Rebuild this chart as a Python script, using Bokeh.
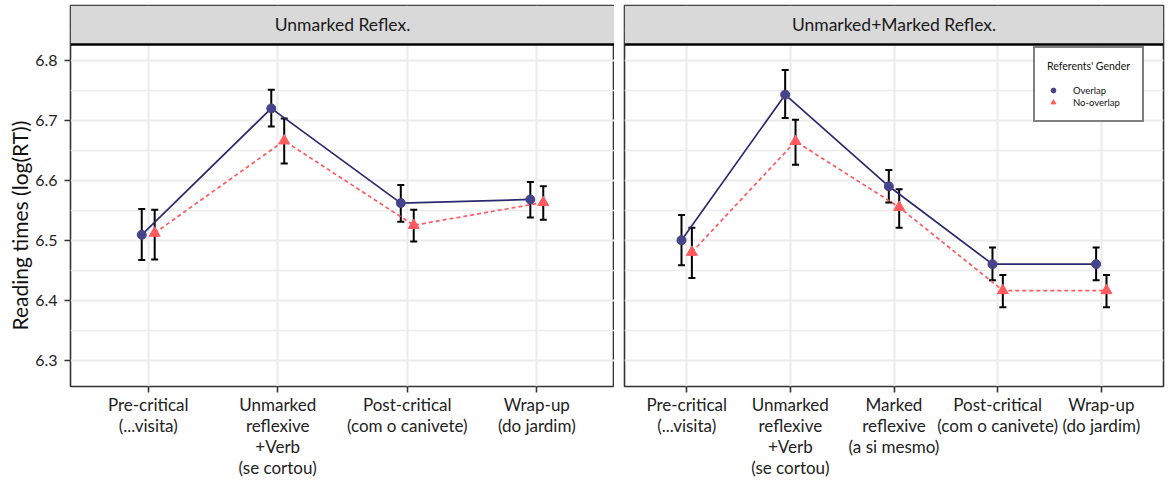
from bokeh.plotting import figure
from bokeh.layouts import row
from bokeh.models import (Range1d, FixedTicker, Whisker, TeeHead, ColumnDataSource,
                          Legend, LegendItem, Title)
from bokeh.core.properties import value
from bokeh.embed import file_html
from bokeh.resources import INLINE

# ---------------- data ----------------
left_title = "Unmarked Reflex."
left_categories = ["Pre-critical\n(...visita)",
                   "Unmarked\nreflexive\n+Verb\n(se cortou)",
                   "Post-critical\n(com o canivete)",
                   "Wrap-up\n(do jardim)"]
left_overlap = [6.509, 6.720, 6.562, 6.568]
left_overlap_lo = [6.467, 6.690, 6.531, 6.538]
left_overlap_hi = [6.552, 6.751, 6.592, 6.597]
left_nooverlap = [6.512, 6.666, 6.525, 6.563]
left_nooverlap_lo = [6.468, 6.628, 6.498, 6.534]
left_nooverlap_hi = [6.551, 6.703, 6.551, 6.590]

right_title = "Unmarked+Marked Reflex."
right_categories = ["Pre-critical\n(...visita)",
                    "Unmarked\nreflexive\n+Verb\n(se cortou)",
                    "Marked\nreflexive\n(a si mesmo)",
                    "Post-critical\n(com o canivete)",
                    "Wrap-up\n(do jardim)"]
right_overlap = [6.500, 6.743, 6.590, 6.460, 6.460]
right_overlap_lo = [6.458, 6.704, 6.563, 6.433, 6.433]
right_overlap_hi = [6.542, 6.784, 6.617, 6.488, 6.488]
right_nooverlap = [6.480, 6.665, 6.555, 6.416, 6.416]
right_nooverlap_lo = [6.437, 6.626, 6.521, 6.388, 6.388]
right_nooverlap_hi = [6.521, 6.701, 6.585, 6.442, 6.442]

y_ticks = [6.3, 6.4, 6.5, 6.6, 6.7, 6.8]
y_minor = [6.25, 6.35, 6.45, 6.55, 6.65, 6.75, 6.85]
series_names = ["Overlap", "No-overlap"]
legend_title = "Referents' Gender"
y_label = "Reading times (log(RT))"

# ---------------- style ----------------
FONT = "Lato"
NAVY_PT = "#45438A"
NAVY_LN = "#2C2A6E"
RED = "#FF5A5F"
GRID = "#EBEBEB"
BORDER = "#333333"
DODGE = 0.05
Y0, Y1 = 6.2558, 6.8918
STRIP_BOTTOM = 6.8267


def make_panel(title, cats, ov, ov_lo, ov_hi, no, no_lo, no_hi,
               width, left_border, right_border, show_y):
    n = len(cats)
    xs = list(range(1, n + 1))
    p = figure(width=width, height=481, output_backend="svg", toolbar_location=None,
               x_range=Range1d(0.4, n + 0.6), y_range=Range1d(Y0, Y1),
               min_border_left=left_border, min_border_right=right_border,
               min_border_top=5, min_border_bottom=95)
    p.outline_line_color = BORDER
    p.outline_line_width = 1.6
    p.background_fill_color = "white"
    p.border_fill_color = "white"

    # grids
    p.xgrid.ticker = FixedTicker(ticks=xs)
    p.xgrid.grid_line_color = GRID
    p.xgrid.grid_line_width = 2
    p.ygrid.ticker = FixedTicker(ticks=y_ticks, minor_ticks=y_minor)
    p.ygrid.grid_line_color = GRID
    p.ygrid.grid_line_width = 2
    p.ygrid.minor_grid_line_color = GRID
    p.ygrid.minor_grid_line_width = 1.3

    # axes
    p.xaxis.ticker = FixedTicker(ticks=xs)
    p.xaxis.major_label_overrides = {x: c for x, c in zip(xs, cats)}
    p.xaxis.axis_line_color = None
    p.xaxis.major_tick_in = 0
    p.xaxis.major_tick_out = 6
    p.xaxis.major_tick_line_color = BORDER
    p.xaxis.major_tick_line_width = 1.6
    p.xaxis.minor_tick_line_color = None
    p.xaxis.major_label_text_font = FONT
    p.xaxis.major_label_text_font_size = "17px"
    p.xaxis.major_label_text_line_height = 1.0
    p.xaxis.major_label_text_color = "#222222"
    p.xaxis.major_label_standoff = 1

    if show_y:
        p.yaxis.ticker = FixedTicker(ticks=y_ticks)
        p.yaxis.axis_line_color = None
        p.yaxis.major_tick_in = 0
        p.yaxis.major_tick_out = 6
        p.yaxis.major_tick_line_color = BORDER
        p.yaxis.major_tick_line_width = 1.6
        p.yaxis.minor_tick_line_color = None
        p.yaxis.major_label_text_font = FONT
        p.yaxis.major_label_text_font_size = "16px"
        p.yaxis.major_label_text_color = "#222222"
        p.yaxis.major_label_standoff = 7
        ylab = Title(text=y_label, align="left", offset=56, standoff=2,
                     text_font=FONT, text_font_size="21px", text_font_style="normal",
                     text_color="#111111")
        p.add_layout(ylab, "left")
    else:
        p.yaxis.visible = False

    x_ov = [x - DODGE for x in xs]
    x_no = [x + DODGE for x in xs]
    src_ov = ColumnDataSource(dict(x=x_ov, y=ov, lo=ov_lo, hi=ov_hi))
    src_no = ColumnDataSource(dict(x=x_no, y=no, lo=no_lo, hi=no_hi))

    p.line("x", "y", source=src_ov, line_color=NAVY_LN, line_width=1.7)
    p.line("x", "y", source=src_no, line_color=RED, line_width=1.7, line_dash="4 3")

    for src in (src_ov, src_no):
        w = Whisker(source=src, base="x", upper="hi", lower="lo", dimension="height",
                    line_color="black", line_width=2,
                    upper_head=TeeHead(size=7, line_color="black", line_width=2),
                    lower_head=TeeHead(size=7, line_color="black", line_width=2))
        p.add_layout(w)

    r_ov = p.scatter("x", "y", source=src_ov, marker="circle", size=9,
                     fill_color=NAVY_PT, line_color=NAVY_PT)
    r_no = p.scatter("x", "y", source=src_no, marker="triangle", size=11,
                     fill_color=RED, line_color=RED)

    # facet strip
    p.quad(left=[0.4], right=[n + 0.6], bottom=[STRIP_BOTTOM], top=[Y1],
           fill_color="#D9D9D9", line_color=BORDER, line_width=1)
    p.segment(x0=[0.4], x1=[n + 0.6], y0=[STRIP_BOTTOM], y1=[STRIP_BOTTOM],
              line_color="black", line_width=2.6)
    p.text(x=[(n + 1) / 2], y=[(STRIP_BOTTOM + Y1) / 2], text=[title],
           text_font=value(FONT), text_font_size="17.5px", text_color="#1A1A1A",
           text_align="center", text_baseline="middle")
    return p, r_ov, r_no


p1, _, _ = make_panel(left_title, left_categories, left_overlap, left_overlap_lo,
                      left_overlap_hi, left_nooverlap, left_nooverlap_lo,
                      left_nooverlap_hi, width=614, left_border=70, right_border=0,
                      show_y=True)
p2, r_ov, r_no = make_panel(right_title, right_categories, right_overlap,
                            right_overlap_lo, right_overlap_hi, right_nooverlap,
                            right_nooverlap_lo, right_nooverlap_hi, width=556,
                            left_border=10, right_border=7, show_y=False)

legend = Legend(items=[LegendItem(label=series_names[0], renderers=[r_ov]),
                       LegendItem(label=series_names[1], renderers=[r_no])],
                title=legend_title, location=(409, 264))
legend.title_text_font = FONT
legend.title_text_font_size = "10.5px"
legend.title_text_font_style = "normal"
legend.title_text_color = "#111111"
legend.title_standoff = 12
legend.label_text_font = FONT
legend.label_text_font_size = "9.5px"
legend.label_text_line_height = 1.0
legend.label_text_color = "#111111"
legend.label_height = 12
legend.glyph_height = 12
legend.glyph_width = 12
legend.label_standoff = 14
legend.spacing = 0
legend.padding = 12
legend.margin = 0
legend.border_line_color = "black"
legend.border_line_width = 2
legend.background_fill_color = "white"
legend.background_fill_alpha = 1
p2.add_layout(legend)

layout = row(p1, p2)
open("out.html", "w").write(file_html(layout, INLINE))
